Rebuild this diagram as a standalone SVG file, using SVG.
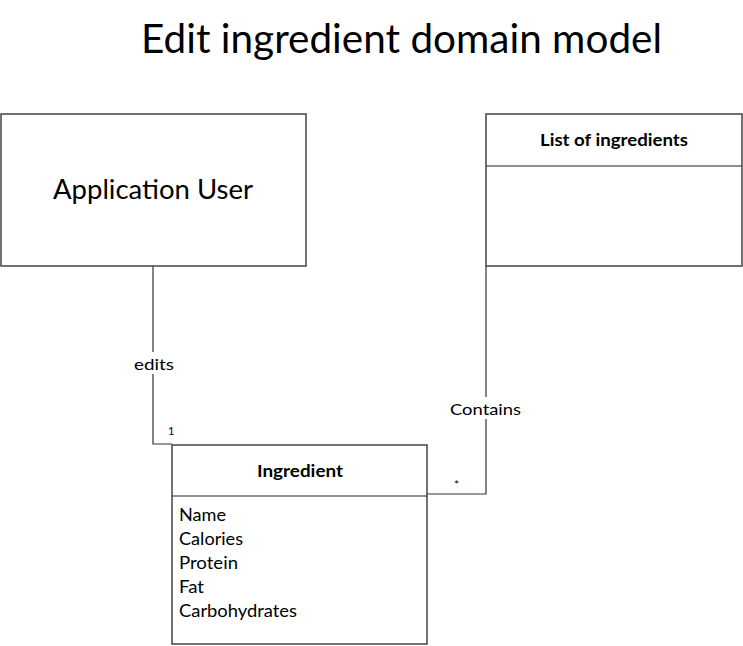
<svg xmlns="http://www.w3.org/2000/svg" width="743" height="646" viewBox="0 0 743 646">
<style>
text{font-family:Lato,"Open Sans","Liberation Sans",sans-serif;fill:#000}
.box{fill:#fff;stroke:#444;stroke-width:1.5}
.div{stroke:#222;stroke-width:1.2}
.conn{fill:none;stroke:#333;stroke-width:1.2}
.b{font-weight:bold;font-size:17px}
.a{font-size:17px}
.lbl{font-size:16px}
</style>
<rect width="743" height="646" fill="#fff"/>
<text x="141" y="53" font-size="40" textLength="521" lengthAdjust="spacingAndGlyphs">Edit ingredient domain model</text>
<g id="connectors">
<polyline class="conn" points="153,266 153,444 172,444"/>
<polyline class="conn" points="486,266 486,494 427,494"/>
<rect x="132" y="352" width="44" height="22" fill="#fff"/>
<text class="lbl" x="134" y="370" textLength="40" lengthAdjust="spacingAndGlyphs">edits</text>
<rect x="449" y="397" width="74" height="22" fill="#fff"/>
<text class="lbl" x="450" y="415" textLength="71" lengthAdjust="spacingAndGlyphs">Contains</text>
<text x="168" y="435" font-size="11">1</text>
<text x="454" y="489" font-size="12">*</text>
</g>
<g id="application-user">
<rect class="box" x="1" y="114" width="305" height="152"/>
<text x="53" y="199" font-size="26" textLength="200" lengthAdjust="spacingAndGlyphs">Application User</text>
</g>
<g id="list-of-ingredients">
<rect class="box" x="486" y="114" width="256" height="152"/>
<line class="div" x1="486" y1="166" x2="742" y2="166"/>
<text class="b" x="540" y="146" textLength="148" lengthAdjust="spacingAndGlyphs">List of ingredients</text>
</g>
<g id="ingredient">
<rect class="box" x="172" y="445" width="255" height="199"/>
<line class="div" x1="172" y1="496" x2="427" y2="496"/>
<text class="b" x="257" y="477" textLength="86" lengthAdjust="spacingAndGlyphs">Ingredient</text>
<text class="a" x="179" y="521" textLength="47" lengthAdjust="spacingAndGlyphs">Name</text>
<text class="a" x="179" y="545" textLength="64" lengthAdjust="spacingAndGlyphs">Calories</text>
<text class="a" x="179" y="569" textLength="59" lengthAdjust="spacingAndGlyphs">Protein</text>
<text class="a" x="179" y="593" textLength="25" lengthAdjust="spacingAndGlyphs">Fat</text>
<text class="a" x="179" y="617" textLength="118" lengthAdjust="spacingAndGlyphs">Carbohydrates</text>
</g>
</svg>
